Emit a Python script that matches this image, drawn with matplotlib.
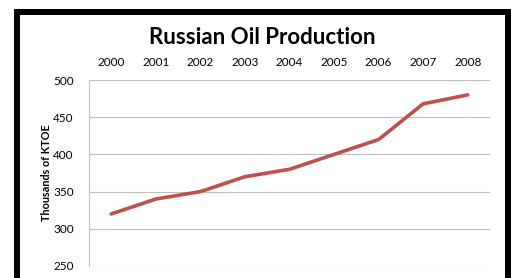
import matplotlib
matplotlib.use("Agg")
import matplotlib.pyplot as plt
from matplotlib.patches import Rectangle

years = ["2000", "2001", "2002", "2003", "2004", "2005", "2006", "2007", "2008"]
production = [320, 340, 350, 370, 380, 400, 420, 468, 480]
yticks = [250, 300, 350, 400, 450, 500]

plt.rcParams['font.family'] = ['Lato', 'DejaVu Sans']

W, H = 514, 278
fig = plt.figure(figsize=(W / 100, H / 100), dpi=100)
fig.patch.set_facecolor('white')

ax = fig.add_axes([89 / W, 1 - 266 / H, (490 - 89) / W, (266 - 80) / H])
x = list(range(len(years)))
ax.plot(x, production, color='#C0504D', linewidth=2.6, solid_capstyle='round', zorder=3)
ax.set_xlim(-0.5, len(years) - 0.5)
ax.set_ylim(250, 500)
ax.set_yticks(yticks)
ax.set_yticklabels([str(v) for v in yticks])
ax.set_xticks(x)
ax.set_xticklabels(years)
ax.xaxis.tick_top()
ax.tick_params(axis='both', length=0, labelsize=8.5, colors='black')
ax.tick_params(axis='x', pad=9)
ax.tick_params(axis='y', pad=11)
ax.grid(axis='y', color='#BFBFBF', linewidth=0.8)
for s in ['top', 'right', 'bottom']:
    ax.spines[s].set_visible(False)
ax.spines['left'].set_color('#BFBFBF')
ax.spines['left'].set_linewidth(0.8)
ax.set_ylabel('Thousands of KTOE', fontsize=7.8, fontweight='bold', labelpad=1)

fig.text(262 / W, 1 - 38 / H, 'Russian Oil Production', ha='center', va='center',
         fontsize=16, fontweight='bold')

border = Rectangle((17 / W, -0.1), (508 - 17) / W, (1 - 12 / H) + 0.1,
                   transform=fig.transFigure, fill=False, edgecolor='black',
                   linewidth=4.3, zorder=10)
fig.add_artist(border)

fig.savefig('out.png', dpi=100)
